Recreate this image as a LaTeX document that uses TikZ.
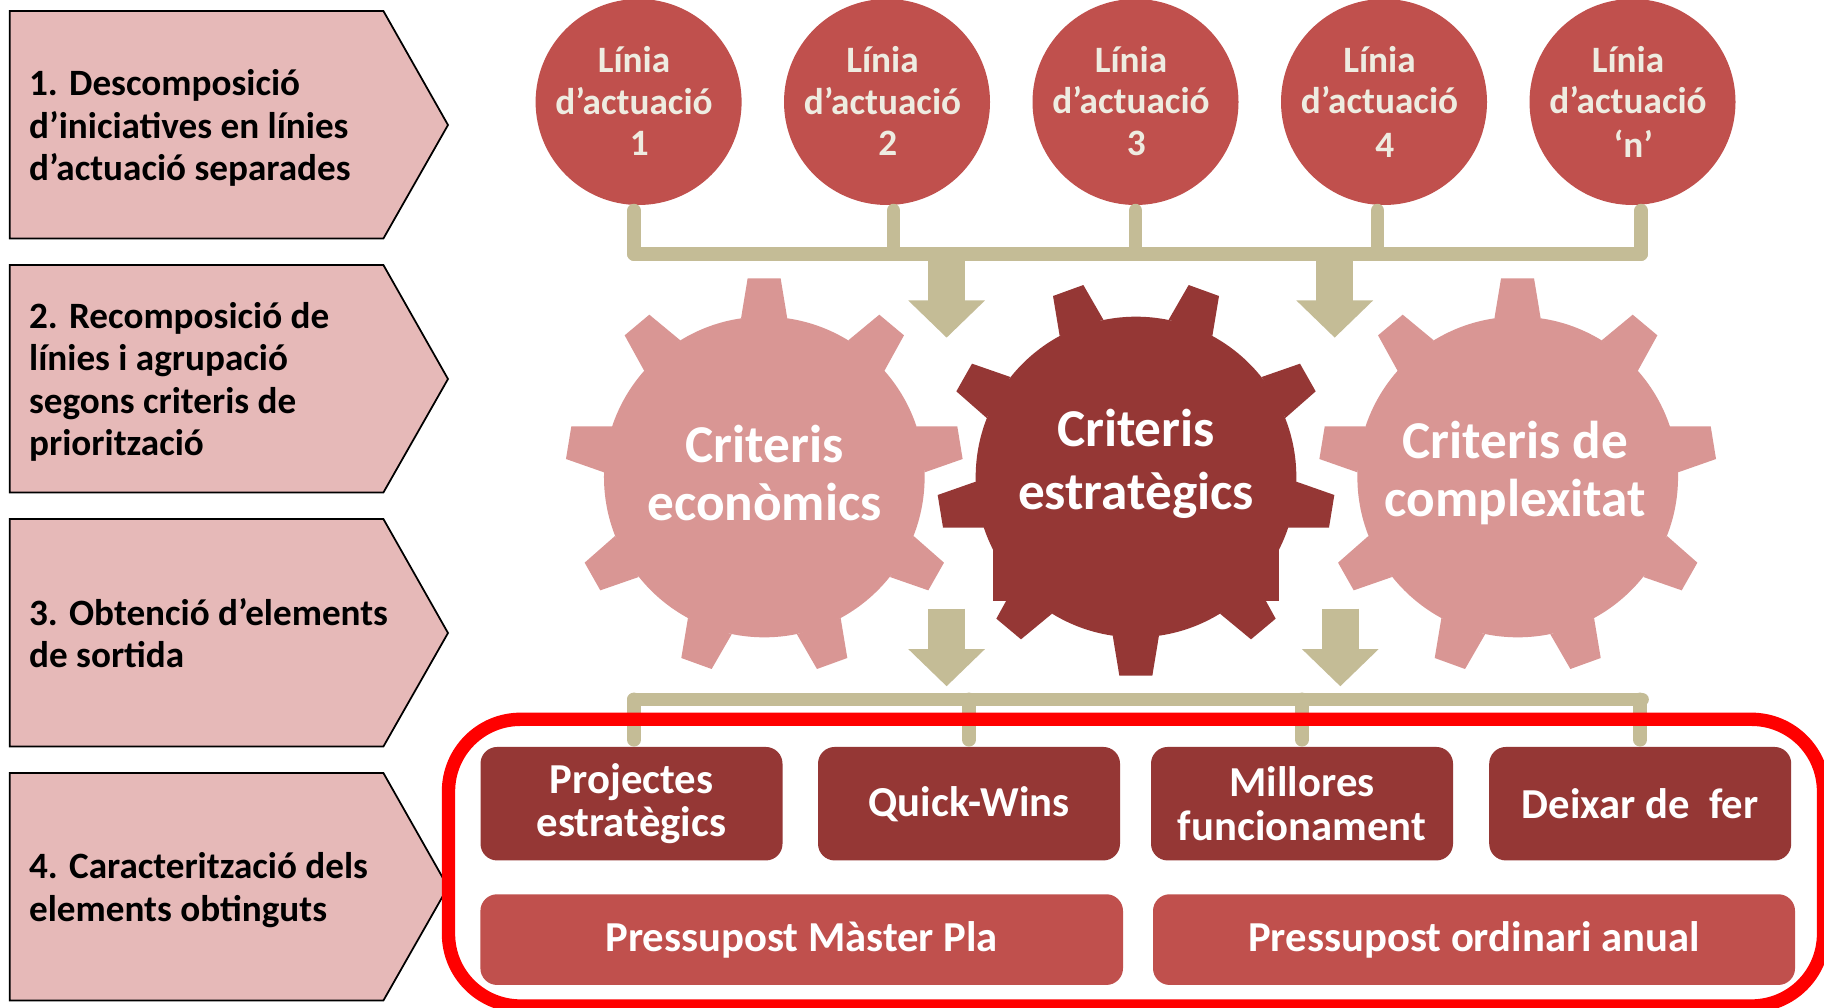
\documentclass[tikz,border=0pt]{standalone}
\usepackage{fontspec}
\setmainfont{Carlito}
\usetikzlibrary{arrows.meta,calc}
\definecolor{beige}{HTML}{C4BC96}
\definecolor{dark}{HTML}{953735}
\definecolor{mid}{HTML}{C0504D}
\definecolor{gearpink}{HTML}{D99694}
\definecolor{penta}{HTML}{E6B9B8}
\definecolor{cream}{HTML}{EEECE1}
\tikzset{
  pentagonbox/.style={draw=black,line width=1pt,fill=penta,line join=miter},
  pentatext/.style={anchor=west,align=left,inner sep=0pt,text=black,font=\fontsize{21.15}{24.2}\selectfont\bfseries},
  disc/.style={circle,fill=mid,draw=none,inner sep=0pt,minimum size=206*0.02cm},
  disctext/.style={align=center,inner sep=0pt,text=cream,font=\fontsize{21.2}{23.4}\selectfont\bfseries},
  bar/.style={draw=beige,line width=7.8pt,line cap=round},
  blockarrow/.style={draw=beige,line width=21.3pt,-{Triangle[length=21.2pt,width=42.4pt,fill=beige]}},
  geartext/.style={align=center,inner sep=0pt,text=white,font=\fontsize{30.3}{32.5}\selectfont\bfseries},
  darkbox/.style={rectangle,rounded corners=9.5pt,fill=dark,inner sep=0pt,minimum width=302*0.02cm,minimum height=113.5*0.02cm,align=center,text=white,font=\fontsize{24.3}{24.6}\selectfont\bfseries},
  midbox/.style={rectangle,rounded corners=9.5pt,fill=mid,inner sep=0pt,minimum height=90.7*0.02cm,align=center,text=white,font=\fontsize{24.3}{24.6}\selectfont\bfseries},
  redframe/.style={draw=red,line width=7.6pt,rounded corners=41pt}
}
\newcommand{\cogwheel}[4]{%
  \begin{scope}[shift={(#1,#2)},x=0.0066667cm,y=#3*0.0066667cm]
    \fill[#4] (0,0) circle[radius=481];
    \fill[#4] (-70,-475)--(-50,-596)--(49,-596)--(69,-475)--cycle;
    \foreach \s in {1,-1}{
      \fill[#4] (\s*252,-410)--(\s*345,-487)--(\s*419,-425)--(\s*360,-318)--cycle;
      \fill[#4] (\s*456,-152)--(\s*579,-152)--(\s*595,-54)--(\s*481,-14)--cycle;
      \fill[#4] (\s*448,177)--(\s*539,257)--(\s*492,340)--(\s*377,300)--cycle;
      \fill[#4] (\s*229,423)--(\s*249,543)--(\s*158,576)--(\s*98,472)--cycle;
    }
  \end{scope}}
\newcommand{\pentagonshape}[1]{%
  \path[pentagonbox] (9.7,#1)--(383.4,#1)--(448,#1+114)--(383.4,#1+227.5)--(9.7,#1+227.5)--cycle;}
\begin{document}
\begin{tikzpicture}[x=0.02cm,y=-0.02cm]
\useasboundingbox (0,0) rectangle (1824,1007);
\clip (0,0) rectangle (1824,1007);
\fill[white] (0,0) rectangle (1824,1007);

% left pentagons
\pentagonshape{11}
\pentagonshape{265}
\pentagonshape{519}
\pentagonshape{773}
\node[pentatext] (p1) at (28.8,128) {1. Descomposició\\d’iniciatives en línies\\d’actuació separades};
\node[pentatext] (p2) at (28.8,382) {2. Recomposició de\\línies i agrupació\\segons criteris de\\priorització};
\node[pentatext] (p3) at (28.8,633) {3. Obtenció d’elements\\de sortida};
\node[pentatext] (p4) at (28.8,890) {4. Caracterització dels\\elements obtinguts};

% top connector
\coordinate (ja) at (634,254);
\coordinate (jb) at (893.5,254);
\coordinate (jc) at (1135.5,254);
\coordinate (jd) at (1377.5,254);
\coordinate (je) at (1641,254);

\node[disc] (c1) at (638.6,102) {};
\node[disc] (c2) at (887,102) {};
\node[disc] (c3) at (1135.5,102) {};
\node[disc] (c4) at (1384,102) {};
\node[disc] (c5) at (1632.5,102) {};
\draw[bar,shorten <=3pt] (ja |- c1.south) -- (ja);
\draw[bar,shorten <=3pt] (jb |- c2.south) -- (jb);
\draw[bar,shorten <=3pt] (jc |- c3.south) -- (jc);
\draw[bar,shorten <=3pt] (jd |- c4.south) -- (jd);
\draw[bar,shorten <=3pt] (je |- c5.south) -- (je);
\draw[bar] (ja) -- (je);
\node[disctext] (t1) at (634,101) {Línia\\d’actuació\\\hspace*{6pt}1};
\node[disctext] (t2) at (882.5,101) {Línia\\d’actuació\\\hspace*{6pt}2};
\node[disctext] (t3) at (1131,101) {Línia\\d’actuació\\\hspace*{6pt}3};
\node[disctext] (t4) at (1379.5,102) {Línia\\d’actuació\\[1.5pt]\hspace*{6pt}4};
\node[disctext] (t5) at (1628,102) {Línia\\d’actuació\\[1.5pt]\hspace*{6pt}‘n’};

% block arrows
\coordinate (ta1) at (946.6,254);
\coordinate (ta2) at (946.6,337.7);
\coordinate (tb1) at (1334.7,254);
\coordinate (tb2) at (1334.7,337.7);
\draw[blockarrow] (ta1) -- (ta2);
\draw[blockarrow] (tb1) -- (tb2);

% gears
\cogwheel{764.3}{477}{-1}{gearpink}
\cogwheel{1517.7}{477}{-1}{gearpink}
\cogwheel{1136}{477}{1}{dark}
\fill[dark] (993,548.3) rectangle (1279,600.7);
\node[geartext] (g1) at (764.5,473) {Criteris\\econòmics};
\node[geartext] (g2) at (1136,464) {Criteris\\[3.5pt]estratègics};
\node[geartext] (g3) at (1515.3,473) {Criteris de\\complexitat};

% lower arrows
\coordinate (ua1) at (946.6,608.7);
\coordinate (ua2) at (946.6,686.3);
\coordinate (ub1) at (1340.3,608.7);
\coordinate (ub2) at (1340.3,686.3);
\draw[blockarrow] (ua1) -- (ua2);
\draw[blockarrow] (ub1) -- (ub2);

% lower connector
\coordinate (ka) at (634,699.4);
\coordinate (kb) at (969,699.4);
\coordinate (kc) at (1302,699.4);
\coordinate (kd) at (1642,699.4);
\node[darkbox] (b1) at (631.5,803.7) {\raisebox{-1.3pt}{Projectes}\\\raisebox{-1.3pt}{estratègics}};
\node[darkbox] (b2) at (969,803.7) {\raisebox{-1.3pt}{Quick-Wins}};
\node[darkbox] (b3) at (1302,803.7) {Millores\\funcionament};
\node[darkbox] (b4) at (1640.2,803.7) {Deixar de\ \ fer};
\node[midbox,minimum width=642.6*0.02cm] (m1) at (801.7,939.6) {\raisebox{-2.4pt}{Pressupost Màster Pla}};
\node[midbox,minimum width=642*0.02cm] (m2) at (1474,939.6) {\raisebox{-2.4pt}{Pressupost ordinari anual}};
\draw[bar] (ka) -- (kd);
\draw[bar,shorten >=3.9pt] (ka) -- (ka |- b1.north);
\draw[bar,shorten >=3.9pt] (kb) -- (b2.north);
\draw[bar,shorten >=3.9pt] (kc) -- (b3.north);
\draw[bar,shorten >=3.9pt] (kd -| b4.north) -- (b4.north);

% red frame
\draw[redframe] (448.5,719.3) rectangle (1823.5,1006);
\end{tikzpicture}
\end{document}
